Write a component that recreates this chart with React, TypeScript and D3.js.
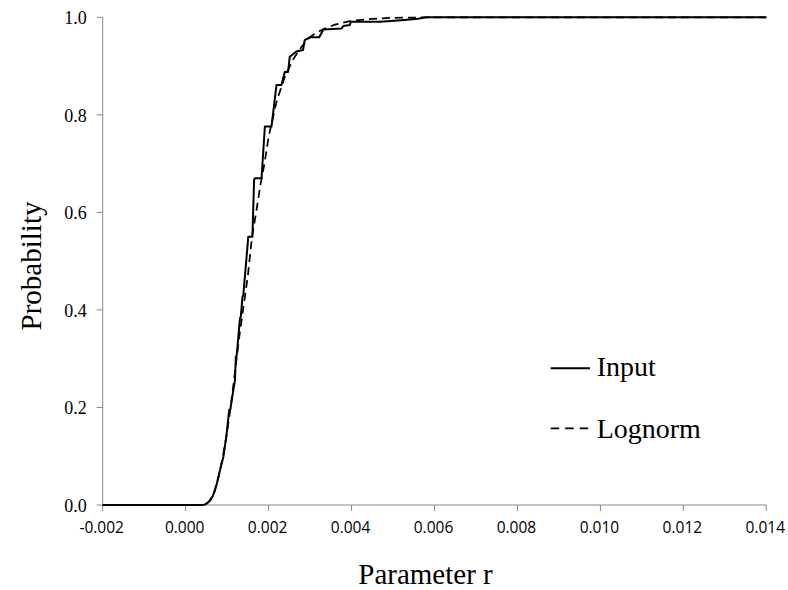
import React, { useEffect, useState } from "react";
import * as d3 from "d3";

const inputR = [-0.002, 0.0004, 0.00045, 0.0005, 0.00055, 0.0006, 0.00065, 0.0007, 0.00075, 0.00083, 0.00091, 0.00098, 0.00105, 0.00108, 0.00112, 0.00119, 0.00121, 0.00123, 0.00131, 0.00133, 0.00137, 0.00139, 0.00151, 0.00161, 0.00165, 0.00167, 0.00183, 0.00191, 0.00207, 0.00219, 0.00231, 0.00239, 0.00247, 0.00251, 0.00267, 0.00283, 0.00287, 0.003, 0.00322, 0.00332, 0.00376, 0.0038, 0.00396, 0.00398, 0.00468, 0.0052, 0.0056, 0.0058, 0.014];
const inputP = [0, 0, 0.0006, 0.0025, 0.006, 0.011, 0.018, 0.028, 0.043, 0.072, 0.099, 0.14, 0.195, 0.197, 0.22, 0.256, 0.304, 0.306, 0.383, 0.386, 0.427, 0.43, 0.55, 0.55, 0.666, 0.67, 0.67, 0.776, 0.776, 0.861, 0.861, 0.888, 0.888, 0.919, 0.93, 0.933, 0.953, 0.959, 0.959, 0.975, 0.977, 0.982, 0.984, 0.991, 0.991, 0.994, 0.997, 1.0, 1.0];

// Lognorm fit
const logR = [-0.002, 0.0004, 0.00045, 0.0005, 0.00055, 0.0006, 0.00065, 0.0007, 0.0008, 0.0009, 0.001, 0.0011, 0.0012, 0.0013, 0.0014, 0.0015, 0.0016, 0.0017, 0.0018, 0.0019, 0.002, 0.0022, 0.0024, 0.0026, 0.0028, 0.003, 0.0033, 0.0036, 0.004, 0.0045, 0.005, 0.006, 0.014];
const logP = [0, 0, 0.0006, 0.0025, 0.006, 0.011, 0.019, 0.03, 0.06, 0.1, 0.15, 0.21, 0.28, 0.35, 0.41, 0.47, 0.55, 0.6, 0.655, 0.7, 0.755, 0.83, 0.88, 0.915, 0.94, 0.96, 0.975, 0.985, 0.993, 0.997, 0.999, 1.0, 1.0];

const xTicks = [-0.002, 0.0, 0.002, 0.004, 0.006, 0.008, 0.01, 0.012, 0.014];
const yTicks = [0, 0.2, 0.4, 0.6, 0.8, 1.0];

const seriesNames = ["Input", "Lognorm"];

const SERIF = "Liberation Serif";
const SANS = "Open Sans";

export default function App() {
  const [ready, setReady] = useState(0);
  useEffect(() => {
    const fs: any = (document as any).fonts;
    if (fs && fs.load) {
      Promise.all([fs.load(`18px "${SERIF}"`), fs.load(`15px "${SANS}"`)])
        .catch(() => null)
        .then(() => setReady((r) => r + 1));
    } else {
      setReady(1);
    }
  }, []);

  const W = 788, H = 590;
  const x = d3.scaleLinear().domain([-0.002, 0.014]).range([102.7, 766.3]);
  const y = d3.scaleLinear().domain([0, 1]).range([505, 17.3]);
  const line = d3
    .line<[number, number]>()
    .x((d) => x(d[0]))
    .y((d) => y(d[1]));
  const inputPts = inputR.map((r, i) => [r, inputP[i]] as [number, number]);
  const logPts = logR.map((r, i) => [r, logP[i]] as [number, number]);
  const axisColor = "#888888";
  const [x0, x1] = x.range();
  const [y0, y1] = y.range();

  return (
    <svg
      key={ready}
      width={W}
      height={H}
      fontFamily={SERIF}
      style={{ position: "absolute", left: 0, top: 0, background: "#fff" }}
    >
      <rect width={W} height={H} fill="#fff" />
      {/* axes */}
      <line x1={x0} x2={x0} y1={y0} y2={y1} stroke={axisColor} strokeWidth={1} />
      <line x1={x0} x2={x1} y1={y0} y2={y0} stroke={axisColor} strokeWidth={1} />
      {yTicks.map((t) => (
        <g key={"y" + t}>
          <line x1={x0 - 6} x2={x0} y1={y(t)} y2={y(t)} stroke={axisColor} />
          <text
            x={86.7}
            y={y(t) + 6.7}
            textAnchor="end"
            fontFamily={SERIF}
            fontSize={18}
            fill="#000"
          >
            {t.toFixed(1)}
          </text>
        </g>
      ))}
      {xTicks.map((t) => (
        <g key={"x" + t}>
          <line x1={x(t)} x2={x(t)} y1={y0} y2={y0 + 6} stroke={axisColor} />
          <text
            x={x(t) - 1}
            y={533}
            textAnchor="middle"
            fontFamily={SANS}
            fontSize={15.5}
            fill="#000"
          >
            {t.toFixed(3)}
          </text>
        </g>
      ))}
      {/* series */}
      <path d={line(logPts) || ""} fill="none" stroke="#000" strokeWidth={1.75} strokeDasharray="8,5" />
      <path d={line(inputPts) || ""} fill="none" stroke="#000" strokeWidth={2} strokeLinejoin="round" />
      {/* axis titles */}
      <text
        x={(x0 + x1) / 2 - 9}
        y={584}
        textAnchor="middle"
        fontFamily={SERIF}
        fontSize={29}
        fill="#000"
      >
        Parameter r
      </text>
      <text
        transform={`translate(41,266) rotate(-90)`}
        textAnchor="middle"
        fontFamily={SERIF}
        fontSize={29}
        fill="#000"
      >
        Probability
      </text>
      {/* legend */}
      <line x1={550.7} x2={590} y1={368.3} y2={368.3} stroke="#000" strokeWidth={2} />
      <text x={596.7} y={376} fontFamily={SERIF} fontSize={28} fill="#000">
        {seriesNames[0]}
      </text>
      <line x1={550.7} x2={590} y1={428.3} y2={428.3} stroke="#000" strokeWidth={1.75} strokeDasharray="8.5,6" />
      <text x={596.7} y={438.3} fontFamily={SERIF} fontSize={28} fill="#000">
        {seriesNames[1]}
      </text>
    </svg>
  );
}
